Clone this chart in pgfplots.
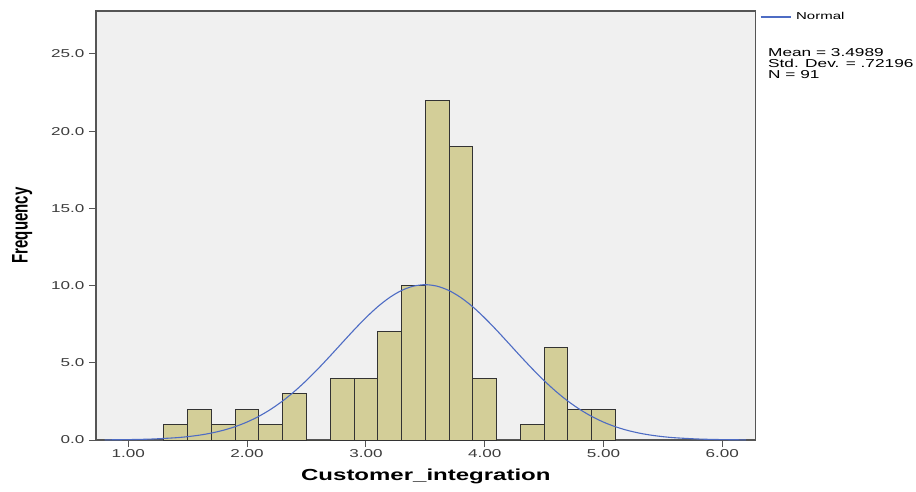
\documentclass[border=0pt]{standalone}
\usepackage{pgfplots}
\pgfplotsset{compat=1.18}
\usepackage{fontspec}
\setmainfont{Liberation Sans}[FakeStretch=1.5]
\newfontfamily\plainsans{Liberation Sans}
\definecolor{barfill}{RGB}{211,206,152}
\definecolor{plotbg}{RGB}{240,240,240}
\definecolor{normalline}{RGB}{78,108,196}
\definecolor{framecol}{RGB}{85,85,85}
\definecolor{ticktext}{RGB}{60,60,60}

\begin{document}
\begin{tikzpicture}
\useasboundingbox (0,0) rectangle (916pt,491pt);
\begin{axis}[
  at={(96pt,51pt)}, anchor=south west,
  scale only axis, width=659.7pt, height=429pt,
  xmin=0.728, xmax=6.281, ymin=0, ymax=27.78,
  xtick={1,2,3,4,5,6}, xticklabels={1.00,2.00,3.00,4.00,5.00,6.00},
  ytick={0,5,10,15,20,25}, yticklabels={0.0,5.0,10.0,15.0,20.0,25.0},
  tick align=outside, xtick pos=bottom, ytick pos=left,
  major tick length=7pt,
  tick style={draw=framecol, line width=1pt},
  axis line style={draw=framecol, line width=1.2pt},
  axis background/.style={fill=plotbg},
  ticklabel style={font=\fontsize{11.4}{13}\selectfont, text=ticktext},
  xticklabel style={yshift=1pt},
  yticklabel style={xshift=-1pt},
  xlabel={\bfseries Customer\_integration},
  xlabel style={at={(axis description cs:0.5,-0.086)}, anchor=center,
    font=\fontsize{16}{18}\selectfont},
  ylabel={\scalebox{1}[1.5]{\plainsans\bfseries Frequency}},
  ylabel style={at={(axis description cs:-0.112,0.5)}, anchor=center,
    font=\fontsize{15}{16}\selectfont},
  legend style={at={(axis description cs:1.0065,0.986)}, anchor=west,
    draw=none, fill=none, inner sep=0pt, outer sep=0pt,
    font=\fontsize{10}{12}\selectfont},
  legend image code/.code={\draw[#1] (0pt,0pt) -- (30pt,0pt);},
  clip=false,
]
% Histogram of the 91 observations, bin width 0.2
\addplot[ybar interval, fill=barfill, draw=black!80, line width=1pt, forget plot]
  coordinates {
    (1.3,1) (1.5,2) (1.7,1) (1.9,2) (2.1,1) (2.3,3) (2.5,0) (2.7,4)
    (2.9,4) (3.1,7) (3.3,10) (3.5,22) (3.7,19) (3.9,4) (4.1,0) (4.3,1)
    (4.5,6) (4.7,2) (4.9,2) (5.1,0)
  };
% Fitted normal curve (mean 3.4989, sd 0.72196), scaled to counts
\addplot[normalline, line width=1.1pt, smooth]
  coordinates {
    (0.8,0.009) (1.0,0.025) (1.2,0.063) (1.4,0.147) (1.5,0.218)
    (1.6,0.316) (1.7,0.451) (1.8,0.631) (1.9,0.866) (2.0,1.166)
    (2.1,1.539) (2.2,1.993) (2.3,2.533) (2.4,3.158) (2.5,3.862)
    (2.6,4.633) (2.7,5.453) (2.8,6.295) (2.9,7.129) (3.0,7.921)
    (3.1,8.634) (3.2,9.231) (3.3,9.683) (3.4,9.963) (3.5,10.057)
    (3.6,9.959) (3.7,9.674) (3.8,9.219) (3.9,8.619) (4.0,7.904)
    (4.1,7.111) (4.2,6.276) (4.3,5.434) (4.4,4.615) (4.5,3.845)
    (4.6,3.143) (4.7,2.520) (4.8,1.983) (4.9,1.530) (5.0,1.158)
    (5.1,0.860) (5.2,0.627) (5.3,0.448) (5.4,0.314) (5.5,0.216)
    (5.6,0.146) (5.8,0.063) (6.0,0.025) (6.2,0.009)
  };
\addlegendentry{\hspace{3pt}Normal}
\node[anchor=north west, align=left, inner sep=0pt,
  font=\fontsize{11.5}{11}\selectfont]
  at (axis description cs:1.0186,0.914)
  {Mean = 3.4989\\Std. Dev. = .72196\\N = 91};
\end{axis}
\end{tikzpicture}
\end{document}
